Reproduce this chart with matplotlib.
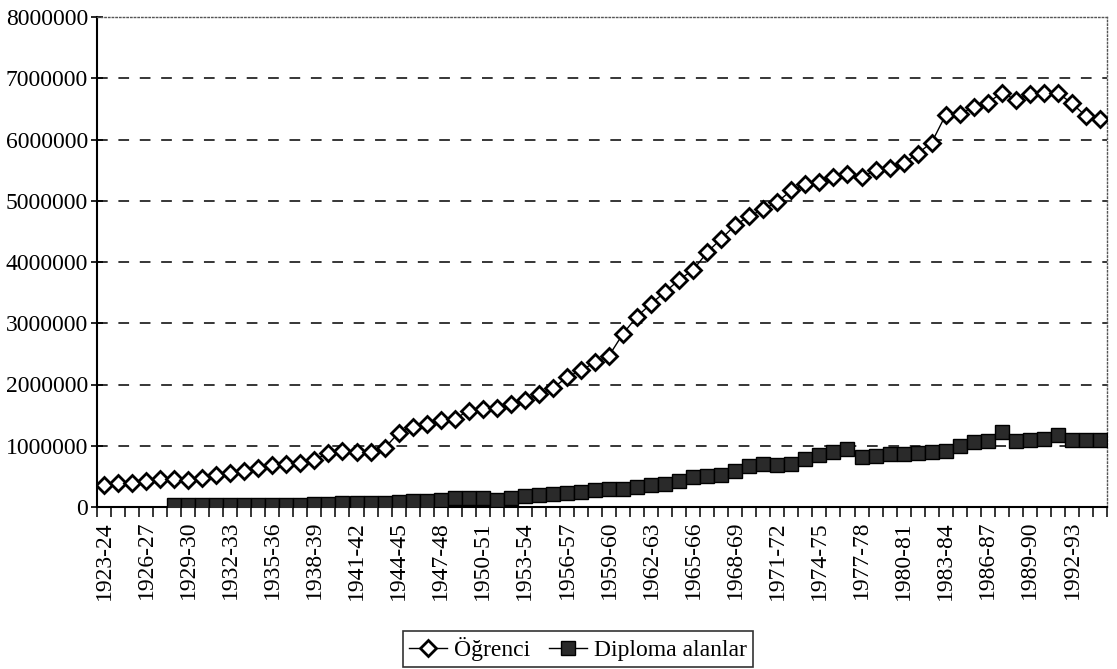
import matplotlib
matplotlib.use('Agg')
import matplotlib.pyplot as plt
import numpy as np

plt.rcParams['font.family'] = ['Liberation Serif', 'DejaVu Serif']

# school years 1923-24 .. 1994-95
seasons = [f"{y}-{str(y + 1)[2:]}" for y in range(1923, 1995)]

ogrenci = [360000, 400000, 400000, 430000, 450000, 460000, 440000, 480000, 520000, 550000,
           580000, 630000, 680000, 700000, 720000, 770000, 880000, 920000, 890000, 890000,
           960000, 1210000, 1310000, 1360000, 1420000, 1440000, 1570000, 1600000, 1610000, 1680000,
           1750000, 1840000, 1940000, 2120000, 2230000, 2360000, 2470000, 2830000, 3110000, 3320000,
           3510000, 3710000, 3870000, 4160000, 4380000, 4600000, 4750000, 4860000, 4980000, 5170000,
           5270000, 5310000, 5390000, 5440000, 5380000, 5500000, 5530000, 5610000, 5770000, 5950000,
           6400000, 6420000, 6530000, 6600000, 6760000, 6650000, 6740000, 6760000, 6760000, 6590000,
           6380000, 6340000]

diploma = [np.nan, np.nan, np.nan, np.nan, np.nan, 25000, 30000, 30000, 25000, 35000,
           30000, 30000, 35000, 40000, 40000, 45000, 50000, 60000, 70000, 70000,
           70000, 80000, 90000, 100000, 120000, 140000, 140000, 150000, 120000, 150000,
           180000, 200000, 210000, 230000, 250000, 270000, 290000, 300000, 330000, 360000,
           380000, 420000, 490000, 500000, 530000, 590000, 670000, 710000, 690000, 700000,
           780000, 850000, 900000, 950000, 820000, 840000, 870000, 870000, 880000, 890000,
           920000, 1000000, 1060000, 1070000, 1220000, 1070000, 1090000, 1110000, 1180000, 1090000,
           1090000, 1090000]

y_ticks = [0, 1000000, 2000000, 3000000, 4000000, 5000000, 6000000, 7000000, 8000000]

x = np.arange(len(seasons))

fig = plt.figure(figsize=(11.17, 6.69), dpi=100)
ax = fig.add_axes([97 / 1117, 162 / 669, 1010 / 1117, 490 / 669])

for v in y_ticks[1:-1]:
    ax.axhline(v, color='black', linewidth=1.1, dashes=(7, 7), zorder=1)

ax.plot(x, ogrenci, color='black', linewidth=1, marker='D', markersize=8.5,
        markerfacecolor='white', markeredgecolor='black', markeredgewidth=2,
        label='Öğrenci', zorder=3)
ax.plot(x, diploma, color='black', linewidth=1, marker='s', markersize=9.5,
        markerfacecolor='#2a2a2a', markeredgecolor='black', markeredgewidth=1,
        label='Diploma alanlar', zorder=3)

ax.set_xlim(-0.45, len(seasons) - 0.55)
ax.set_ylim(0, 8000000)

ax.set_yticks(y_ticks)
ax.set_yticklabels([str(v) for v in y_ticks], fontsize=17)
ax.tick_params(axis='y', direction='inout', length=9, width=1.2, pad=2)

ax.set_xticks(x[::3])
ax.set_xticklabels(seasons[::3], rotation=90, fontsize=17)
ax.tick_params(axis='x', which='major', length=0, pad=10)
ax.set_xticks(np.arange(len(seasons) + 1) - 0.5, minor=True)
ax.tick_params(axis='x', which='minor', direction='out', length=7, width=1.1)

ax.spines['left'].set_linewidth(1.5)
ax.spines['bottom'].set_linewidth(1.5)
for s in ['top', 'right']:
    ax.spines[s].set_linestyle(':')
    ax.spines[s].set_color('#555555')
    ax.spines[s].set_linewidth(1)

leg = fig.legend(loc='center', bbox_to_anchor=(578 / 1117, 20 / 669), ncol=2,
                 fontsize=17, frameon=True, fancybox=False, handlelength=1.6,
                 handletextpad=0.3, columnspacing=0.8, borderpad=0.25,
                 borderaxespad=0)
leg.get_frame().set_edgecolor('black')
leg.get_frame().set_linewidth(1.2)

fig.savefig('out.png', dpi=100)
